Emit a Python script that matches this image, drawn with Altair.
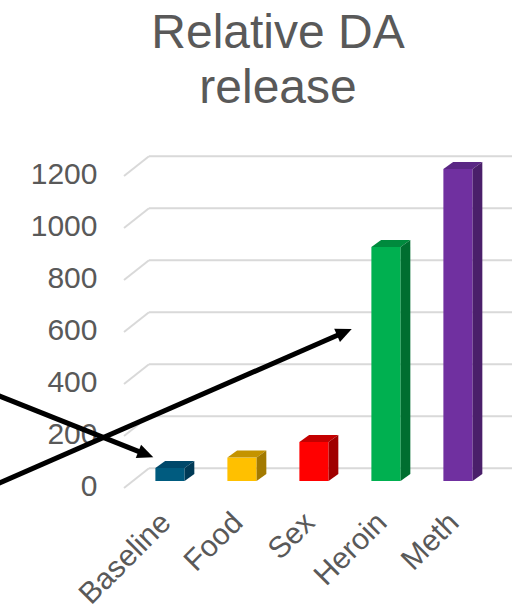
import json
import math

import altair as alt
import pandas as pd

# ---- data -------------------------------------------------------------
categories = ["Baseline", "Food", "Sex", "Heroin", "Meth"]
values = [50, 90, 150, 900, 1200]
front_colors = ["#005B7F", "#FFC000", "#FF0000", "#00B050", "#7030A0"]
top_colors = ["#00486A", "#C49300", "#C40000", "#008A3D", "#5A2784"]
side_colors = ["#003A56", "#A37A00", "#A00000", "#006E30", "#4A1F6A"]
y_ticks = [0, 200, 400, 600, 800, 1000, 1200]

# arrows: (start index, start value) -> (tip index, tip value)
arrow_start_i = [-2.444, -2.444]
arrow_start_v = [335, -16.5]
arrow_tip_i = [-0.232, 2.524]
arrow_tip_v = [91.2, 584.6]

# ---- layout / pseudo-3D geometry ----------------------------------------
W, H = 428, 370
PAD = {"left": 100, "top": 130, "right": 0, "bottom": 110}
X_DOM = [-0.9722, 4.9722]
Y_DOM = [-73.08, 1350]
PX_PER_I = W / (X_DOM[1] - X_DOM[0])
PX_PER_V = H / (Y_DOM[1] - Y_DOM[0])

HALF = 0.203        # half width of a bar's front face (category units)
DEPTH_X = 0.135     # bar depth, horizontal part
DEPTH_Y = 27        # bar depth, vertical part (value units)
WALL_X0, WALL_X1 = -0.292, 4.75   # back wall extent
FRONT_X0 = -0.639                 # left front edge of the floor
WALL_DY, FRONT_DY = 49, -27       # back wall / front edge level shifts

GREY = "#595959"
FONT = "Liberation Sans"

xs = alt.Scale(domain=X_DOM, nice=False, zero=False)
ys = alt.Scale(domain=Y_DOM, nice=False, zero=False)

idx = list(range(len(categories)))
label_expr = json.dumps(categories) + "[datum.value]"

# one shared axis definition per channel, used by every layer
xa = alt.Axis(values=idx, labelExpr=label_expr, title=None, grid=False,
              domain=False, ticks=False, labelAngle=315, labelAlign="right",
              labelBaseline="top", labelPadding=7, labelOffset=-15,
              labelFontSize=30, labelColor=GREY, labelFont=FONT,
              labelOverlap=False, labelBound=False, labelFlush=False)
ya = alt.Axis(values=y_ticks, format="d", title=None, grid=False, domain=False,
              ticks=False, labelFontSize=30, labelColor=GREY,
              labelFont=FONT, labelPadding=3, labelOffset=6,
              labelOverlap=False, labelBound=False, labelFlush=False)

front = pd.DataFrame({
    "cat": categories,
    "x0": [i - HALF for i in idx],
    "x1": [i + HALF for i in idx],
    "v": values,
    "base": [0] * len(values),
    "c": front_colors,
})

top_rows, side_rows = [], []
for i, cat, v, tc, sc in zip(idx, categories, values, top_colors, side_colors):
    top_rows.append({"cat": cat, "y": v, "xl": i - HALF, "xr": i + HALF, "c": tc})
    top_rows.append({"cat": cat, "y": v + DEPTH_Y, "xl": i - HALF + DEPTH_X,
                     "xr": i + HALF + DEPTH_X, "c": tc})
    side_rows.append({"cat": cat, "x": i + HALF, "yt": v, "yb": 0, "c": sc})
    side_rows.append({"cat": cat, "x": i + HALF + DEPTH_X, "yt": v + DEPTH_Y,
                      "yb": DEPTH_Y, "c": sc})
top = pd.DataFrame(top_rows)
side = pd.DataFrame(side_rows)

grid = pd.DataFrame({
    "t": y_ticks,
    "back": [t + WALL_DY for t in y_ticks],
    "front": [t + FRONT_DY for t in y_ticks],
    "wx0": [WALL_X0] * len(y_ticks),
    "wx1": [WALL_X1] * len(y_ticks),
    "fx0": [FRONT_X0] * len(y_ticks),
})

# arrow shafts stop a little short of the tip so the head stays sharp
shaft_rows, head_rows = [], []
for si, sv, ti, tv in zip(arrow_start_i, arrow_start_v, arrow_tip_i, arrow_tip_v):
    dx = (ti - si) * PX_PER_I
    dy = -(tv - sv) * PX_PER_V
    length = math.hypot(dx, dy)
    f = 1 - 10 / length
    shaft_rows.append({"i0": si, "v0": sv, "i1": si + (ti - si) * f, "v1": sv + (tv - sv) * f})
    head_rows.append({"i": ti, "v": tv, "ang": math.degrees(math.atan2(dy, dx)) % 360})
shafts = pd.DataFrame(shaft_rows)
heads = pd.DataFrame(head_rows)

# ---- layers -------------------------------------------------------------
back_lines = alt.Chart(grid).mark_rule(color="#D9D9D9", strokeWidth=2).encode(
    x=alt.X("wx0:Q", scale=xs, axis=xa),
    x2="wx1:Q",
    y=alt.Y("back:Q", scale=ys, axis=ya),
)

side_lines = alt.Chart(grid).mark_rule(color="#D9D9D9", strokeWidth=2).encode(
    x=alt.X("fx0:Q", scale=xs, axis=xa),
    x2="wx0:Q",
    y=alt.Y("front:Q", scale=ys, axis=ya),
    y2="back:Q",
)

bars_front = alt.Chart(front).mark_rect().encode(
    x=alt.X("x0:Q", scale=xs, axis=xa),
    x2="x1:Q",
    y=alt.Y("v:Q", scale=ys, axis=ya),
    y2="base:Q",
    color=alt.Color("c:N", scale=None),
)

bars_top = alt.Chart(top).mark_area(orient="horizontal").encode(
    y=alt.Y("y:Q", scale=ys, axis=ya),
    x=alt.X("xl:Q", scale=xs, axis=xa),
    x2="xr:Q",
    color=alt.Color("c:N", scale=None),
    detail="cat:N",
)

bars_side = alt.Chart(side).mark_area().encode(
    x=alt.X("x:Q", scale=xs, axis=xa),
    y=alt.Y("yt:Q", scale=ys, axis=ya),
    y2="yb:Q",
    color=alt.Color("c:N", scale=None),
    detail="cat:N",
)

arrow_shafts = alt.Chart(shafts).mark_rule(color="black", strokeWidth=5).encode(
    x=alt.X("i0:Q", scale=xs, axis=xa),
    x2="i1:Q",
    y=alt.Y("v0:Q", scale=ys, axis=ya),
    y2="v1:Q",
)

arrow_heads = alt.Chart(heads).mark_point(
    shape="M0,0L-1,-0.45L-1,0.45Z", filled=True, color="black", opacity=1,
    size=1024, strokeWidth=0,
).encode(
    x=alt.X("i:Q", scale=xs, axis=xa),
    y=alt.Y("v:Q", scale=ys, axis=ya),
    angle=alt.Angle("ang:Q", scale=None),
)

chart = alt.layer(
    back_lines, side_lines, bars_front, bars_top, bars_side, arrow_shafts, arrow_heads
).properties(
    width=W,
    height=H,
    padding=PAD,
    autosize=alt.AutoSizeParams(type="none"),
    background="white",
    title=alt.TitleParams(
        text=["Relative DA", "release"], fontSize=48, font=FONT, fontWeight="normal",
        color=GREY, lineHeight=55, anchor="middle", dx=-36, offset=17,
    ),
).configure_view(stroke=None)

chart.save("out.html", embed_options={"renderer": "svg", "actions": False})
